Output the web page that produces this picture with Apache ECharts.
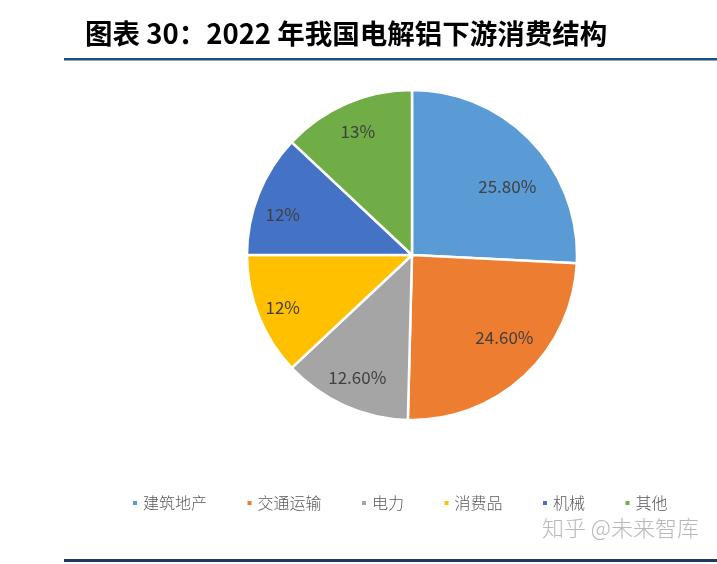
<!DOCTYPE html>
<html>
<head>
<meta charset="utf-8">
<script src="https://cdn.jsdelivr.net/npm/echarts@6/dist/echarts.min.js"></script>
<style>
html,body{margin:0;padding:0;background:#fff;}
#chart{width:717px;height:564px;}
</style>
</head>
<body>
<div id="chart"></div>
<script>
var titleText = '图表 30：2022 年我国电解铝下游消费结构';
var categories = ['建筑地产', '交通运输', '电力', '消费品', '机械', '其他'];
var values = [25.8, 24.6, 12.6, 12, 12, 13];
var valueLabels = ['25.80%', '24.60%', '12.60%', '12%', '12%', '13%'];
var colors = ['#5B9BD5', '#ED7D31', '#A5A5A5', '#FFC000', '#4472C4', '#70AD47'];
var watermark = '知乎 @未来智库';
// label nudges (style only)
var labelOffsets = [[0, 22], [3, -14], [-1, 3], [-7, 4], [-7, 8], [-2, -3]];

var chart = echarts.init(document.getElementById('chart'));
var pieData = categories.map(function (c, i) {
  return { name: c, value: values[i], itemStyle: { color: colors[i] } };
});
var labelData = categories.map(function (c, i) {
  return { name: c, value: values[i], label: { offset: labelOffsets[i] } };
});
chart.setOption({
  animation: false,
  title: {
    text: titleText,
    left: 80,
    top: 15,
    textStyle: { fontSize: 27.5, fontWeight: 'bold', color: '#000', fontFamily: '"Noto Sans CJK SC", sans-serif' }
  },
  legend: {
    data: categories,
    bottom: 48,
    left: 126,
    icon: 'rect',
    itemWidth: 6,
    itemHeight: 6,
    itemGap: 38.5,
    textStyle: { fontSize: 16, color: '#595959', fontFamily: '"Noto Sans CJK SC", sans-serif', fontWeight: 300 }
  },
  graphic: [
    { type: 'rect', shape: { x: 64, y: 58, width: 653, height: 2.5 }, style: { fill: '#1F4E79' } },
    { type: 'rect', shape: { x: 64, y: 559, width: 653, height: 3 }, style: { fill: '#1F3864' } },
    { type: 'text', left: 542, top: 517, style: { text: watermark, fill: '#b8b8b8', font: '300 22px "Noto Sans CJK SC", sans-serif' } }
  ],
  series: [
    {
      type: 'pie',
      center: [412, 255],
      radius: [0, 165],
      startAngle: 90,
      clockwise: true,
      label: { show: false },
      labelLine: { show: false },
      itemStyle: { borderColor: '#fff', borderWidth: 2.5 },
      data: pieData
    },
    {
      type: 'pie',
      center: [412, 255],
      radius: [92, 165],
      startAngle: 90,
      clockwise: true,
      silent: true,
      legendHoverLink: false,
      itemStyle: { color: 'rgba(0,0,0,0)', borderWidth: 0 },
      label: {
        show: true,
        position: 'inside',
        formatter: function (p) { return valueLabels[p.dataIndex]; },
        fontSize: 17,
        color: '#404040',
        fontFamily: '"Noto Sans CJK SC", sans-serif'
      },
      labelLine: { show: false },
      data: labelData
    }
  ]
});
</script>
</body>
</html>
